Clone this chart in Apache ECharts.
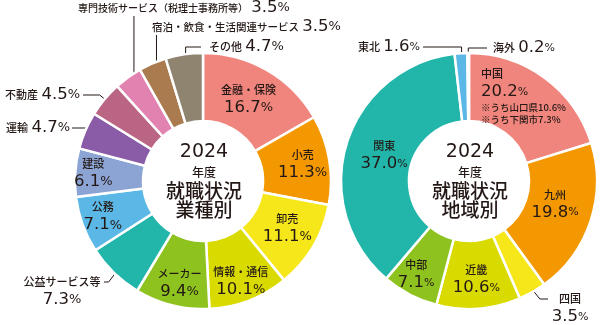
<!DOCTYPE html>
<html><head><meta charset="utf-8">
<script src="https://cdn.jsdelivr.net/npm/echarts@6/dist/echarts.min.js"></script>
<style>html,body{margin:0;padding:0;background:#fff}#c{width:600px;height:325px}</style>
</head><body><div id="c"></div>
<script>
// ---- data ----
const industryNames = ['金融・保険','小売','卸売','情報・通信','メーカー','公益サービス等','公務','建設','運輸','不動産','専門技術サービス（税理士事務所等）','宿泊・飲食・生活関連サービス','その他'];
const industryValues = [16.7,11.3,11.1,10.1,9.4,7.3,7.1,6.1,4.7,4.5,3.5,3.5,4.7];
const regionNames = ['中国','九州','四国','近畿','中部','関東','東北','海外'];
const regionValues = [20.2,19.8,3.5,10.6,7.1,37.0,1.6,0.2];
const chugokuNotes = ['※うち山口県10.6%','※うち下関市7.3%'];
const centerYear = '2024';
const centerLeft = ['年度','就職状況','業種別'];
const centerRight = ['年度','就職状況','地域別'];

// ---- styles ----
const industryColors = ['#EF857D','#F39800','#F6E71B','#D8DA00','#8EC31F','#22B6AA','#5BB8E6','#8CA4D4','#8A5BA6','#BA6584','#E282B1','#A97B4F','#8F8470'];
const regionColors = ['#EF857D','#F39800','#F6E71B','#D8DA00','#8EC31F','#22B6AA','#5BB8E6','#E282B1'];
const JP = '"Noto Sans CJK JP", sans-serif';
const NUM = '"DejaVu Sans", sans-serif';
const INK = '#231815';

const rich = {
  n: {fontFamily: JP, fontSize: 11, fontWeight: 500, color: INK, lineHeight: 16},
  ns: {fontFamily: JP, fontSize: 10.5, fontWeight: 500, color: INK, lineHeight: 16},
  nx: {fontFamily: JP, fontSize: 10, fontWeight: 500, color: INK, lineHeight: 16},
  v: {fontFamily: NUM, fontSize: 16.5, color: INK, lineHeight: 20},
  p: {fontFamily: NUM, fontSize: 13, color: INK, lineHeight: 20},
  p2: {fontFamily: NUM, fontSize: 11, color: INK, lineHeight: 20},
  nl: {fontFamily: JP, fontSize: 11, fontWeight: 500, color: INK, lineHeight: 16, align: 'left'},
  vl: {fontFamily: NUM, fontSize: 16.5, color: INK, lineHeight: 20, align: 'left'},
  pl: {fontFamily: NUM, fontSize: 11, color: INK, lineHeight: 20, align: 'left'},
  sl: {fontFamily: JP, fontSize: 9.5, fontWeight: 500, color: INK, lineHeight: 12, align: 'left'}
};

// label offsets (inside) and outer label placement
const insideOffset = {
  L: {'情報・通信':[3,10],'メーカー':[0,9],'公務':[-9,3],'建設':[-13,-1],'金融・保険':[-3,3],'小売':[4,0],'卸売':[1,-2]},
  R: {'中国':[-3,-7],'九州':[-6,-7],'中部':[-8,8],'関東':[8,3],'近畿':[0,2]}
};
const outerCfg = {
  L: {
    'その他': {x:209, y:47, align:'left', line:'uph', gap:8, fmt: (n,v)=>`{n|${n}} {v|${v}}{p|%}`},
    '宿泊・飲食・生活関連サービス': {x:152, y:27, align:'left', line:'up', gap:8, fmt:(n,v)=>`{ns|${n}} {v|${v}}{p|%}`},
    '専門技術サービス（税理士事務所等）': {x:78, y:8, align:'left', line:'up', gap:8, fmt:(n,v)=>`{nx|${n}} {v|${v}}{p|%}`},
    '不動産': {x:80, y:95, align:'right', line:'diag', k:1.2, gap:3, fmt:(n,v)=>`{n|${n}} {v|${v}}{p|%}`},
    '運輸': {x:70, y:128, align:'right', line:'diag', k:1.1, gap:2, fmt:(n,v)=>`{n|${n}} {v|${v}}{p|%}`},
    '公益サービス等': {x:62, y:282, align:'center', two:true, line:'diag', k:0.75, endDx:42, fmt:(n,v)=>`{n|${n}}\n{v|${v}}{p|%}`}
  },
  R: {
    '東北': {x:420, y:47, align:'right', line:'uph', gap:3, fmt:(n,v)=>`{n|${n}} {v|${v}}{p2|%}`},
    '海外': {x:493, y:48, align:'left', line:'uph', gap:6, fmt:(n,v)=>`{n|${n}} {v|${v}}{p2|%}`},
    '四国': {x:570, y:299, align:'center', two:true, line:'diag', k:0.8, endDx:-22, fmt:(n,v)=>`{n|${n}}\n{v|${v}}{p2|%}`}
  }
};

function buildData(names, values, colors, side) {
  return names.map((name, i) => {
    const item = {name, value: values[i], itemStyle: {color: colors[i]}};
    const v = values[i].toFixed(1);
    const oc = outerCfg[side][name];
    if (oc) {
      item.label = {position: 'outside', formatter: oc.fmt(name, v)};
      item.labelLine = {show: true};
    } else if (side === 'R' && name === '中国') {
      item.label = {formatter: `{nl|${name}}\n{vl|${v}}{pl|%}\n{sl|${chugokuNotes[0]}}\n{sl|${chugokuNotes[1]}}`};
    } else {
      item.label = {formatter: `{n|${name}}\n{v|${v}}{${side==='R'?'p2':'p'}|%}`};
    }
    return item;
  });
}

function makeLayout(names, side) {
  return function (p) {
    const name = names[p.dataIndex];
    const oc = outerCfg[side][name];
    if (!oc) {
      const o = insideOffset[side][name];
      return o ? {dx: o[0], dy: o[1]} : {};
    }
    const res = {x: oc.x, y: oc.two ? oc.y - 8 : oc.y, align: oc.align, verticalAlign: oc.two ? 'top' : 'middle'};
    const pts = p.labelLinePoints;
    if (pts && pts.length >= 2) {
      const p0 = pts[0], p1 = pts[1];
      let dx = p1[0]-p0[0], dy = p1[1]-p0[1];
      const len = Math.sqrt(dx*dx+dy*dy) || 1; dx/=len; dy/=len;
      const s = [p0[0]-dx*10, p0[1]-dy*10];
      let line;
      if (oc.line === 'uph') {
        const ex = oc.align === 'left' ? oc.x - oc.gap : oc.x + oc.gap;
        line = [s, [s[0], oc.y], [ex, oc.y]];
      } else if (oc.line === 'up') {
        line = [s, [s[0], oc.y + oc.gap], [s[0], oc.y + oc.gap]];
      } else {
        const ex = oc.endDx !== undefined ? oc.x + oc.endDx : (oc.align === 'right' ? oc.x + oc.gap : oc.x - oc.gap);
        const sign = ex < s[0] ? -1 : 1;
        line = [s, [s[0] + sign*Math.abs(s[1]-oc.y)*oc.k, oc.y], [ex, oc.y]];
      }
      res.labelLinePoints = line;
    }
    return res;
  };
}

function pieSeries(center, names, values, colors, side) {
  return {
    type: 'pie', center, radius: [60, 128], startAngle: 90, clockwise: true,
    avoidLabelOverlap: false, silent: true, animation: false,
    itemStyle: {borderColor: '#fff', borderWidth: 2.5},
    label: {show: true, position: 'inside', color: INK, rich, lineHeight: 18},
    labelLine: {show: true, length: 15, length2: 0, lineStyle: {color: INK, width: 1}},
    emphasis: {disabled: true},
    data: buildData(names, values, colors, side),
    labelLayout: makeLayout(names, side)
  };
}

const titleRich = {
  y: {fontFamily: NUM, fontSize: 19, fontWeight: 'normal', color: INK, lineHeight: 22},
  n: {fontFamily: JP, fontSize: 12, fontWeight: 500, color: INK, lineHeight: 18},
  b: {fontFamily: JP, fontSize: 19, fontWeight: 500, color: INK, lineHeight: 19}
};
function centerTitle(x, lines) {
  return {
    text: `{y|${centerYear}}\n{n|${lines[0]}}\n{b|${lines[1]}}\n{b|${lines[2]}}`,
    left: x, top: 141, textAlign: 'center', padding: 0,
    textStyle: {fontWeight: 'normal', rich: titleRich}
  };
}

const chart = echarts.init(document.getElementById('c'), null, {renderer: 'canvas'});
chart.setOption({
  animation: false,
  title: [centerTitle(204, centerLeft), centerTitle(470, centerRight)],
  series: [
    pieSeries([203, 181], industryNames, industryValues, industryColors, 'L'),
    pieSeries([469, 181], regionNames, regionValues, regionColors, 'R')
  ]
});
</script></body></html>
